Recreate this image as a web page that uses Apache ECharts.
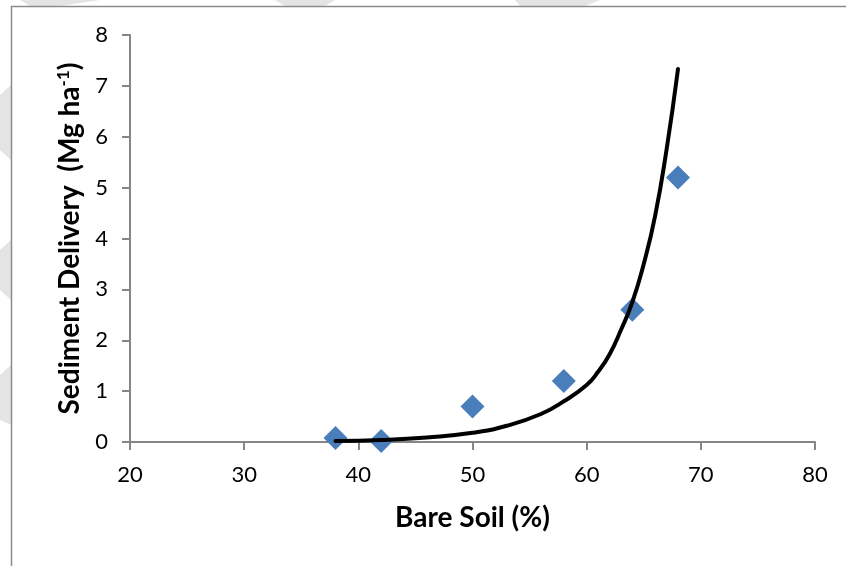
<!DOCTYPE html>
<html>
<head>
<meta charset="utf-8">
<script src="https://cdn.jsdelivr.net/npm/echarts@6/dist/echarts.min.js"></script>
<style>
html, body { margin: 0; padding: 0; background: #fff; }
#chart { width: 846px; height: 566px; }
</style>
</head>
<body>
<div id="chart"></div>
<script>
var chart = echarts.init(document.getElementById('chart'));

// observed points
var bareSoil = [38, 42, 50, 58, 64, 68];
var sediment = [0.08, 0.02, 0.7, 1.2, 2.6, 5.2];

// exponential trend line
var trendX = [38, 42, 46, 50, 53, 56, 58, 60, 61, 62, 63, 64, 65, 66, 67, 68];
var trendY = [0.02, 0.04, 0.09, 0.18, 0.32, 0.55, 0.8, 1.12, 1.38, 1.72, 2.2, 2.75, 3.5, 4.45, 5.75, 7.33];

var xTicks = [20, 30, 40, 50, 60, 70, 80];
var yTicks = [0, 1, 2, 3, 4, 5, 6, 7, 8];

var pts = bareSoil.map(function (x, i) { return [x, sediment[i]]; });
var trend = trendX.map(function (x, i) { return [x, trendY[i]]; });

var fontFam = 'Lato, "Open Sans", sans-serif';

// faint watermark bands behind the chart
function band(pts) {
    return {
        type: 'polygon',
        shape: { points: pts },
        style: { fill: '#e4e4e4' },
        silent: true,
        z: -2
    };
}

var option = {
    backgroundColor: '#fff',
    animation: false,
    grid: { left: 130, right: 31, top: 35, bottom: 124 },
    xAxis: {
        type: 'value',
        min: xTicks[0],
        max: xTicks[xTicks.length - 1],
        interval: 10,
        name: 'Bare Soil (%)',
        nameLocation: 'middle',
        nameGap: 62,
        nameTextStyle: { fontFamily: fontFam, fontWeight: 'bold', fontSize: 28, color: '#000' },
        axisLine: { lineStyle: { color: '#868686', width: 2 } },
        axisTick: { show: true, inside: false, length: 8, lineStyle: { color: '#868686', width: 2 } },
        axisLabel: { fontFamily: fontFam, fontSize: 22, color: '#000', margin: 22 },
        splitLine: { show: false }
    },
    yAxis: {
        type: 'value',
        min: yTicks[0],
        max: yTicks[yTicks.length - 1],
        interval: 1,
        name: 'Sediment Delivery  (Mg ha{sup|-1})',
        nameLocation: 'middle',
        nameGap: 46,
        nameRotate: 90,
        nameTextStyle: {
            fontFamily: fontFam, fontWeight: 'bold', fontSize: 28, color: '#000',
            rich: { sup: { fontFamily: fontFam, fontWeight: 'bold', fontSize: 17, color: '#000', verticalAlign: 'top', padding: [0, 0, 12, 0] } }
        },
        axisLine: { show: true, lineStyle: { color: '#868686', width: 2 } },
        axisTick: { show: true, inside: false, length: 8, lineStyle: { color: '#868686', width: 2 } },
        axisLabel: { fontFamily: fontFam, fontSize: 22, color: '#000', margin: 22 },
        splitLine: { show: false }
    },
    graphic: [
        band([[20, 0], [100, 0], [60, 6], [30, 6]]),
        band([[275, 0], [335, 0], [325, 6], [285, 6]]),
        band([[515, 0], [600, 0], [585, 6], [520, 6]]),
        band([[0, 95], [11, 85], [11, 160], [0, 150]]),
        band([[0, 250], [11, 240], [11, 300], [0, 290]]),
        band([[0, 375], [11, 365], [11, 425], [0, 420]]),
        {
            type: 'rect',
            shape: { x: 11.5, y: 6.5, width: 900, height: 700 },
            style: { fill: 'none', stroke: '#8c8c8c', lineWidth: 1.5 },
            silent: true,
            z: -1
        }
    ],
    series: [{
        type: 'scatter',
        data: pts,
        symbol: 'diamond',
        symbolSize: 24,
        itemStyle: { color: '#4A7EBB', opacity: 1 },
        z: 2
    }, {
        type: 'line',
        data: trend,
        smooth: true,
        showSymbol: false,
        lineStyle: { color: '#000', width: 4, cap: 'round' },
        z: 3
    }]
};

chart.setOption(option);
</script>
</body>
</html>
